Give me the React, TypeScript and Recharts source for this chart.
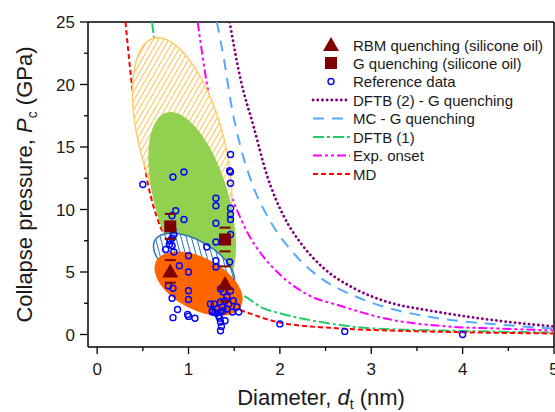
import React from 'react'
import {
  ComposedChart,
  Line,
  Scatter,
  XAxis,
  YAxis,
  ReferenceLine,
} from 'recharts'

const FONT = '"Liberation Sans", Arial, sans-serif'

const xTicks = [0, 0.5, 1, 1.5, 2, 2.5, 3, 3.5, 4, 4.5, 5]
const yTicks = [0, 2.5, 5, 7.5, 10, 12.5, 15, 17.5, 20, 22.5, 25]

// curves: [diameter, pressure]
const dftb2Curve = [
  [1.45, 25], [1.57, 20.4], [1.71, 16.7], [1.86, 12.7], [2.04, 9.5], [2.23, 7.3],
  [2.48, 5.3], [2.81, 3.7], [3.18, 2.6], [3.65, 1.9], [4.2, 1.28], [5.0, 0.64],
]
const mcCurve = [
  [1.31, 25], [1.4, 21.5], [1.46, 18.7], [1.57, 15.0], [1.7, 12.0], [1.9, 9.0],
  [2.15, 6.5], [2.45, 4.5], [2.81, 3.1], [3.15, 2.2], [3.68, 1.36], [4.39, 0.8], [5.0, 0.48],
]
const dftb1Curve = [
  [0.6, 25], [0.71, 18.8], [0.82, 12.7], [0.87, 11.0], [1.04, 8.5], [1.15, 6.5],
  [1.35, 4.7], [1.49, 3.5], [1.64, 2.95], [1.79, 2.2], [2.0, 1.7], [2.48, 0.96],
  [3.03, 0.48], [4.0, 0.28], [5.0, 0.15],
]
const expCurve = [
  [1.1, 25], [1.2, 20.1], [1.31, 16.0], [1.4, 12.9], [1.49, 10.7], [1.57, 9.3],
  [1.68, 7.7], [1.79, 6.5], [2.0, 4.8], [2.3, 3.2], [2.66, 2.3], [3.14, 1.3],
  [3.84, 0.64], [4.39, 0.48], [5.0, 0.32],
]
const mdCurve = [
  [0.31, 25], [0.38, 20], [0.49, 15], [0.56, 11.9], [0.6, 10.7], [0.8, 6.9],
  [1.1, 3.9], [1.35, 2.6], [1.64, 1.76], [2.0, 0.96], [2.66, 0.48], [3.2, 0.32],
  [4.0, 0.18], [5.0, 0.08],
]

const refPoints = [
  [0.5, 12.0], [0.83, 12.6], [0.95, 13.0], [0.86, 9.9], [0.82, 9.5], [0.95, 9.2],
  [0.83, 8.4], [0.84, 8.0], [0.82, 7.7], [0.8, 7.5], [0.79, 7.2], [0.82, 7.1],
  [0.75, 6.8], [0.84, 6.6], [0.9, 5.5], [1.0, 6.3], [1.0, 5.0], [0.78, 3.9],
  [0.83, 3.7], [0.82, 2.9], [1.0, 3.5], [1.0, 2.8], [0.88, 2.0], [0.83, 1.35],
  [0.99, 1.6], [1.0, 1.45], [1.07, 1.3], [1.2, 7.0],
  [1.46, 14.4], [1.46, 13.0], [1.45, 13.1], [1.46, 12.1], [1.3, 10.9], [1.3, 10.3],
  [1.46, 10.1], [1.46, 9.6], [1.46, 9.2], [1.3, 8.9], [1.46, 8.0], [1.3, 7.4],
  [1.3, 5.9], [1.3, 5.4], [1.45, 5.8], [1.35, 3.65], [1.38, 3.4], [1.42, 3.0],
  [1.46, 3.5], [1.35, 2.6], [1.28, 2.45], [1.31, 2.05], [1.35, 1.8], [1.38, 1.9],
  [1.42, 2.05], [1.44, 2.45], [1.49, 2.7], [1.53, 2.2], [1.55, 1.8], [1.48, 1.8],
  [1.4, 1.1], [1.35, 1.0], [1.35, 0.3], [1.36, 0.65], [1.33, 1.5], [1.26, 1.8],
  [1.4, 2.7], [1.37, 2.2], [1.29, 1.75], [1.34, 1.3], [1.24, 2.45], [1.26, 1.9],
  [2.0, 0.85], [2.71, 0.25], [4.0, 0.0],
]

const rbmX = [0.8, 1.4]
const rbmP = [5.05, 4.05]
const rbmErr = [0.9, 1.4]
const gX = [0.8, 1.4]
const gP = [8.65, 7.6]
const gErr = [1.0, 0.95]

// shaded regions: centre in data units
const regionIds = ['yellow', 'green', 'blue', 'orange']
const regionX = [0.93, 1.04, 1.06, 1.11]
const regionP = [15.2, 10.6, 5.75, 4.07]

const regionStyle: Record<string, any> = {
  yellow: { rx: 42, ry: 110, rot: -15, fill: 'url(#hatchYellow)', stroke: '#FFCC66' },
  green: { rx: 37, ry: 93, rot: -16, fill: '#92D050', stroke: 'none' },
  blue: { rx: 45, ry: 22, rot: 30, fill: 'url(#hatchBlue)', stroke: '#2E75B6' },
  orange: { rx: 48, ry: 26, rot: 28, fill: '#FF6600', stroke: 'none' },
}

const toXY = (pts: number[][]) => pts.map(([x, y]) => ({ x, y }))
const rbmData = rbmX.map((x, i) => ({ x, y: rbmP[i] }))
const gData = gX.map((x, i) => ({ x, y: gP[i] }))
const errorBars = [
  ...rbmX.map((x, i) => [{ x, y: rbmP[i] - rbmErr[i] }, { x, y: rbmP[i] + rbmErr[i] }]),
  ...gX.map((x, i) => [{ x, y: gP[i] - gErr[i] }, { x, y: gP[i] + gErr[i] }]),
]
const regionData = regionIds.map((id, i) => ({ id, x: regionX[i], y: regionP[i] }))

const DARK_RED = '#7F0000'

const series = [
  { name: 'DFTB (2) - G quenching', data: dftb2Curve, color: '#800080', dash: '0.1 4.6', width: 2.8, cap: 'round' },
  { name: 'MC - G quenching', data: mcCurve, color: '#55AAFF', dash: '11 8', width: 2, cap: 'butt' },
  { name: 'DFTB (1)', data: dftb1Curve, color: '#22CC66', dash: '11 3 3 3', width: 2, cap: 'butt' },
  { name: 'Exp. onset', data: expCurve, color: '#FF00FF', dash: '9 3 3 3 3 3', width: 2, cap: 'butt' },
  { name: 'MD', data: mdCurve, color: '#FF0000', dash: '5 3', width: 2, cap: 'butt' },
]

const RegionShape = (props: any) => {
  const { cx, cy, payload } = props
  const s = regionStyle[payload.id]
  return (
    <g>
      <defs>
        <pattern id="hatchYellow" patternUnits="userSpaceOnUse" width="4.5" height="4.5" patternTransform="rotate(45)">
          <rect width="4.5" height="4.5" fill="#fff" />
          <line x1="0" y1="0" x2="0" y2="4.5" stroke="#FFC04D" strokeWidth="2" />
        </pattern>
        <pattern id="hatchBlue" patternUnits="userSpaceOnUse" width="5" height="5" patternTransform="rotate(-45)">
          <rect width="5" height="5" fill="#fff" />
          <line x1="0" y1="0" x2="0" y2="5" stroke="#2E75B6" strokeWidth="2" />
        </pattern>
      </defs>
      <ellipse
        cx={cx}
        cy={cy}
        rx={s.rx}
        ry={s.ry}
        transform={`rotate(${s.rot} ${cx} ${cy})`}
        fill={s.fill}
        stroke={s.stroke}
        strokeWidth={1.5}
      />
    </g>
  )
}

const Triangle = ({ cx, cy }: any) => (
  <polygon points={`${cx},${cy - 8} ${cx - 8},${cy + 6} ${cx + 8},${cy + 6}`} fill={DARK_RED} />
)
const Square = ({ cx, cy }: any) => (
  <rect x={cx - 6} y={cy - 6} width={12} height={12} fill={DARK_RED} />
)
const OpenCircle = ({ cx, cy }: any) => (
  <circle cx={cx} cy={cy} r={3} fill="none" stroke="#0000FF" strokeWidth={1.4} />
)
const Cap = ({ cx, cy }: any) => (
  <line x1={cx - 5.5} x2={cx + 5.5} y1={cy} y2={cy} stroke={DARK_RED} strokeWidth={2} />
)

const XTick = ({ x, y, payload }: any) => {
  const major = Number.isInteger(payload.value)
  return (
    <g>
      <line x1={x} x2={x} y1={y} y2={y + (major ? 7 : 4)} stroke="#000" strokeWidth={1.3} />
      {major && (
        <text x={x} y={y + 28} textAnchor="middle" fontSize={17} fontFamily={FONT} fill="#1a1a1a">
          {payload.value}
        </text>
      )}
    </g>
  )
}

const YTick = ({ x, y, payload }: any) => {
  const major = payload.value % 5 === 0
  return (
    <g>
      <line x1={x} x2={x - (major ? 8 : 4)} y1={y} y2={y} stroke="#000" strokeWidth={1.3} />
      {major && (
        <text x={x - 13} y={y + 6} textAnchor="end" fontSize={17} fontFamily={FONT} fill="#1a1a1a">
          {payload.value}
        </text>
      )}
    </g>
  )
}

const XTitle = ({ viewBox }: any) => (
  <text x={viewBox.x + viewBox.width / 2} y={viewBox.y + 58} textAnchor="middle" fontSize={22} fontFamily={FONT} fill="#1a1a1a">
    Diameter, <tspan fontStyle="italic">d</tspan>
    <tspan fontSize={14} dy={4}>t</tspan>
    <tspan dy={-4}> (nm)</tspan>
  </text>
)

const YTitle = ({ viewBox }: any) => {
  const x = viewBox.x + 4
  const y = viewBox.y + viewBox.height / 2
  return (
    <text x={x} y={y} transform={`rotate(-90 ${x} ${y})`} textAnchor="middle" fontSize={22} fontFamily={FONT} fill="#1a1a1a">
      Collapse pressure, <tspan fontStyle="italic">P</tspan>
      <tspan fontSize={14} dy={5}>c</tspan>
      <tspan dy={-5}> (GPa)</tspan>
    </text>
  )
}

const LegendBox = () => {
  const x0 = 313
  const x1 = 350
  const mid = 331
  const tx = 353
  const rows = [45, 63, 81.5, 100, 118.5, 137, 155.5, 174]
  const label = (i: number, t: string) => (
    <text x={tx} y={rows[i] + 5.5} fontSize={15} fontFamily={FONT} fill="#1a1a1a">{t}</text>
  )
  return (
    <svg width={555} height={412} style={{ position: 'absolute', left: 0, top: 0, pointerEvents: 'none' }}>
      <Triangle cx={mid} cy={rows[0]} />
      {label(0, 'RBM quenching (silicone oil)')}
      <Square cx={mid} cy={rows[1]} />
      {label(1, 'G quenching (silicone oil)')}
      <OpenCircle cx={mid} cy={rows[2]} />
      {label(2, 'Reference data')}
      {series.map((s, i) => (
        <g key={s.name}>
          <line
            x1={x0}
            x2={x1}
            y1={rows[i + 3]}
            y2={rows[i + 3]}
            stroke={s.color}
            strokeWidth={s.width}
            strokeDasharray={s.dash}
            strokeLinecap={s.cap as any}
          />
          {label(i + 3, s.name)}
        </g>
      ))}
    </svg>
  )
}

export default function App() {
  return (
    <div style={{ position: 'absolute', left: 0, top: 0, width: 555, height: 412, background: '#fff' }}>
      <ComposedChart width={555} height={412} margin={{ top: 22, right: 1, bottom: 30, left: 28 }}>
        <XAxis
          type="number"
          dataKey="x"
          domain={[-0.1, 5]}
          ticks={xTicks}
          interval={0}
          allowDataOverflow
          tickSize={0}
          tickMargin={0}
          tickLine={false}
          tick={<XTick />}
          axisLine={{ stroke: '#000', strokeWidth: 1.5 }}
          height={35}
          label={(p: any) => <XTitle {...p} />}
        />
        <YAxis
          type="number"
          dataKey="y"
          domain={[-1, 25]}
          ticks={yTicks}
          interval={0}
          allowDataOverflow
          tickSize={0}
          tickMargin={0}
          tickLine={false}
          tick={<YTick />}
          axisLine={{ stroke: '#000', strokeWidth: 1.5 }}
          width={60}
          label={(p: any) => <YTitle {...p} />}
        />
        <ReferenceLine y={25} stroke="#000" strokeWidth={1.5} ifOverflow="visible" />
        <ReferenceLine x={5} stroke="#000" strokeWidth={1.5} ifOverflow="visible" />
        <Scatter data={regionData} dataKey="y" shape={<RegionShape />} isAnimationActive={false} />
        {series.map((s) => (
          <Line
            key={s.name}
            data={toXY(s.data)}
            dataKey="y"
            type="monotoneX"
            stroke={s.color}
            strokeWidth={s.width}
            strokeDasharray={s.dash}
            strokeLinecap={s.cap as any}
            dot={false}
            activeDot={false}
            isAnimationActive={false}
          />
        ))}
        <Scatter data={toXY(refPoints)} dataKey="y" shape={<OpenCircle />} isAnimationActive={false} />
        {errorBars.map((bar, i) => (
          <Line
            key={`err-${i}`}
            data={bar}
            dataKey="y"
            type="linear"
            stroke={DARK_RED}
            strokeWidth={2}
            strokeDasharray="none"
            dot={<Cap />}
            activeDot={false}
            isAnimationActive={false}
          />
        ))}
        <Scatter data={gData} dataKey="y" shape={<Square />} isAnimationActive={false} />
        <Scatter data={rbmData} dataKey="y" shape={<Triangle />} isAnimationActive={false} />
      </ComposedChart>
      <LegendBox />
    </div>
  )
}
